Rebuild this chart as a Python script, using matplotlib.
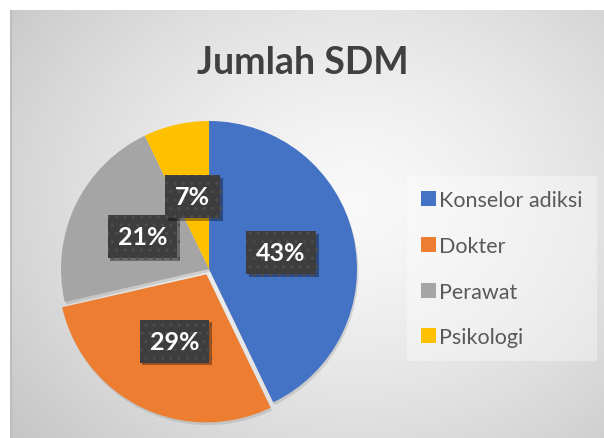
import numpy as np
import matplotlib.pyplot as plt
import matplotlib.patheffects as pe

plt.rcParams['font.family'] = ['Lato', 'DejaVu Sans']

# data
categories = ['Konselor adiksi', 'Dokter', 'Perawat', 'Psikologi']
counts = [6, 4, 3, 1]
colors = ['#4472C4', '#ED7D31', '#A5A5A5', '#FFC000']
explode = [0, 0.04, 0, 0]

W, H = 604, 439
fig = plt.figure(figsize=(W / 100, H / 100), dpi=100)
fig.patch.set_facecolor('white')

# chart area with radial gradient background
bg = fig.add_axes([10 / W, 0, (W - 10) / W, (H - 11) / H])
yy, xx = np.mgrid[0:1:300j, 0:1:400j]
d = np.sqrt(((xx - 0.58) / 0.75) ** 2 + ((yy - 0.45) / 0.85) ** 2)
d = np.clip(d, 0, 1)
g = 0.975 - 0.2 * d ** 1.4
bg.imshow(np.dstack([g, g, g]), extent=[0, 1, 0, 1], aspect='auto', origin='upper')
bg.set_xlim(0, 1)
bg.set_ylim(0, 1)
bg.axis('off')
bg.plot([0.001, 0.001], [0, 1], color='#bdbdbd', lw=1.5)

# title
fig.text(303 / W, 1 - 74 / H, 'Jumlah SDM', ha='center', va='baseline',
         fontsize=27, fontweight='bold', color='#404040')

# pie
cx, cy, r = 209, H - 270, 148
half = 160
ax = fig.add_axes([(cx - half) / W, (cy - half) / H, 2 * half / W, 2 * half / H])
ax.set_facecolor('none')
wedges, texts = ax.pie(counts, colors=colors, startangle=90, counterclock=False,
                       explode=explode, radius=1,
                       wedgeprops=dict(linewidth=0))[:2]
lim = half / r
ax.set_xlim(-lim, lim)
ax.set_ylim(-lim, lim)
ax.set_aspect('equal')
ax.axis('off')

for w in wedges:
    w.set_path_effects([pe.SimplePatchShadow(offset=(1, -2), shadow_rgbFace='#808080', alpha=0.25),
                        pe.Normal()])

# data labels
total = sum(counts)
for w, c, e in zip(wedges, counts, explode):
    ang = np.deg2rad((w.theta1 + w.theta2) / 2)
    x = (0.5 + e) * np.cos(ang)
    y = (0.5 + e) * np.sin(ang)
    t = ax.text(x, y, f'{round(100 * c / total)}%', ha='center', va='center',
                fontsize=18, fontweight='bold', color='white')
    t.set_bbox(dict(boxstyle='square,pad=0.4', facecolor='#3d3d3d', edgecolor='#4d4d4d',
                    linewidth=0, hatch='..'))
    t.get_bbox_patch().set_path_effects([
        pe.SimplePatchShadow(offset=(2, -2), shadow_rgbFace='black', alpha=0.35),
        pe.Normal()])

# legend
leg = fig.legend(wedges, categories, loc='upper left',
                 bbox_to_anchor=(407 / W, 1 - 177 / H),
                 fontsize=15.5, frameon=True, fancybox=False,
                 handlelength=0.7, handleheight=0.7, handletextpad=0.15,
                 labelspacing=1.2, borderpad=0.65, borderaxespad=0)
leg.get_frame().set_facecolor('white')
leg.get_frame().set_alpha(0.35)
leg.get_frame().set_linewidth(0)
for txt in leg.get_texts():
    txt.set_color('#595959')
for h in leg.legend_handles:
    h.set_path_effects([])

fig.savefig('out.png', dpi=100)
